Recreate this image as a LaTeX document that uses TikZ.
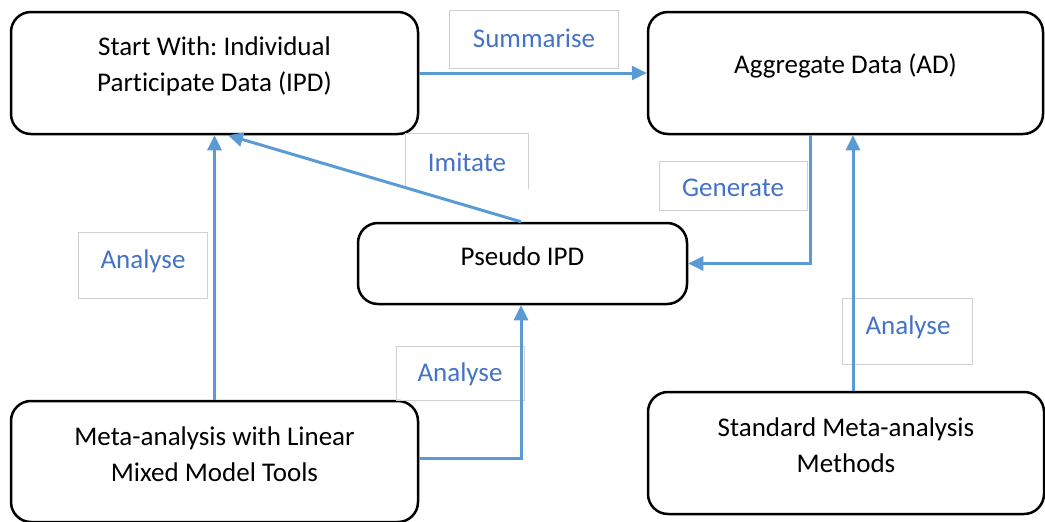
\documentclass[tikz,border=0pt]{standalone}
\usepackage{fontspec}
\setmainfont{Carlito}[Ligatures=NoCommon]
\frenchspacing
\usetikzlibrary{arrows.meta,calc}
\definecolor{linkblue}{HTML}{5B9BD5}
\definecolor{wordblue}{HTML}{4472C4}
\definecolor{tagframe}{HTML}{D0D0D0}
\tikzset{
  stage/.style={draw=black, line width=2.5pt, rounded corners=20pt, inner sep=0pt},
  stagetext/.style={align=center, font=\fontsize{27}{36}\selectfont, inner sep=0pt},
  tag/.style={draw=tagframe, line width=1pt, inner sep=0pt, text=wordblue,
              font=\fontsize{27}{34}\selectfont},
  tagword/.style={inner sep=0pt, text=wordblue, font=\fontsize{27}{34}\selectfont},
  link/.style={draw=linkblue, line width=3pt, -{Triangle[length=15pt,width=14pt]}}
}
\begin{document}
\begin{tikzpicture}[x=1pt, y=-1pt]
\useasboundingbox (0,0) rectangle (1045,522);

% process boxes
\node[stage, minimum width=407pt, minimum height=122pt] (ipd) at (214.5,73) {};
\node[stage, minimum width=395pt, minimum height=122pt] (ad) at (845.5,73) {};
\node[stage, minimum width=329pt, minimum height=81pt] (pseudo) at (522.5,263.5) {};
\node[stage, minimum width=407pt, minimum height=121pt] (lmm) at (214.5,461.5) {};
\node[stage, minimum width=396pt, minimum height=122pt] (std) at (846,453) {};

% box captions
\node[stagetext] (ipdtext) at ($(ipd.center)+(0,-7)$) {Start With: Individual\\Participate Data (IPD)};
\node[stagetext] (adtext) at ($(ad.center)+(0,-7)$) {Aggregate Data (AD)};
\node[stagetext] (pseudotext) at ($(pseudo.center)+(0,-7)$) {Pseudo IPD};
\node[stagetext] (lmmtext) at ($(lmm.center)+(0,-7)$) {Meta-analysis with Linear\\Mixed Model Tools};
\node[stagetext] (stdtext) at ($(std.center)+(0,-8)$) {Standard Meta-analysis\\Methods};

% edge label frames
\node[tag, minimum width=169pt, minimum height=58pt] (sumtag) at (533.5,39) {};
\node[tag, draw=none, minimum width=122pt, minimum height=54pt] (imitag) at (467,161) {};
\draw[tagframe, line width=1pt] (imitag.south west) -- (imitag.north west) -- (imitag.north east) -- (imitag.south east);
\node[tag, minimum width=148pt, minimum height=49pt] (gentag) at (733,185.5) {};
\node[tag, minimum width=129pt, minimum height=66pt] (antagL) at (142.5,265) {};
\node[tag, minimum width=128pt, minimum height=54pt] (antagM) at (460,373) {};
\node[tag, minimum width=130pt, minimum height=66pt] (antagR) at (907,331) {};

% edge label words
\node[tagword] (sumword) at (534,38) {Summarise};
\node[tagword] (imiword) at (467,162) {Imitate};
\node[tagword] (genword) at (733,188) {Generate};
\node[tagword] (anwordL) at (143,261) {Analyse};
\node[tagword] (anwordM) at (460,374) {Analyse};
\node[tagword] (anwordR) at (908,327) {Analyse};

% connectors
\draw[link] (ipd.east) -- (ad.west);
\draw[link] (lmm.north) -- (ipd.south);
\draw[link] ($(pseudo.north)+(-1.5,0)$) -- ($(ipd.south)+(13.5,0)$);
\draw[link] ($(ad.south)+(-35.5,0)$) |- (pseudo.east);
\draw[link] ($(std.north)+(7,0)$) -- ($(ad.south)+(7.5,0)$);
\draw[link] ($(lmm.east)+(0,-3)$) -| ($(pseudo.south)+(-1.5,0)$);
\end{tikzpicture}
\end{document}
